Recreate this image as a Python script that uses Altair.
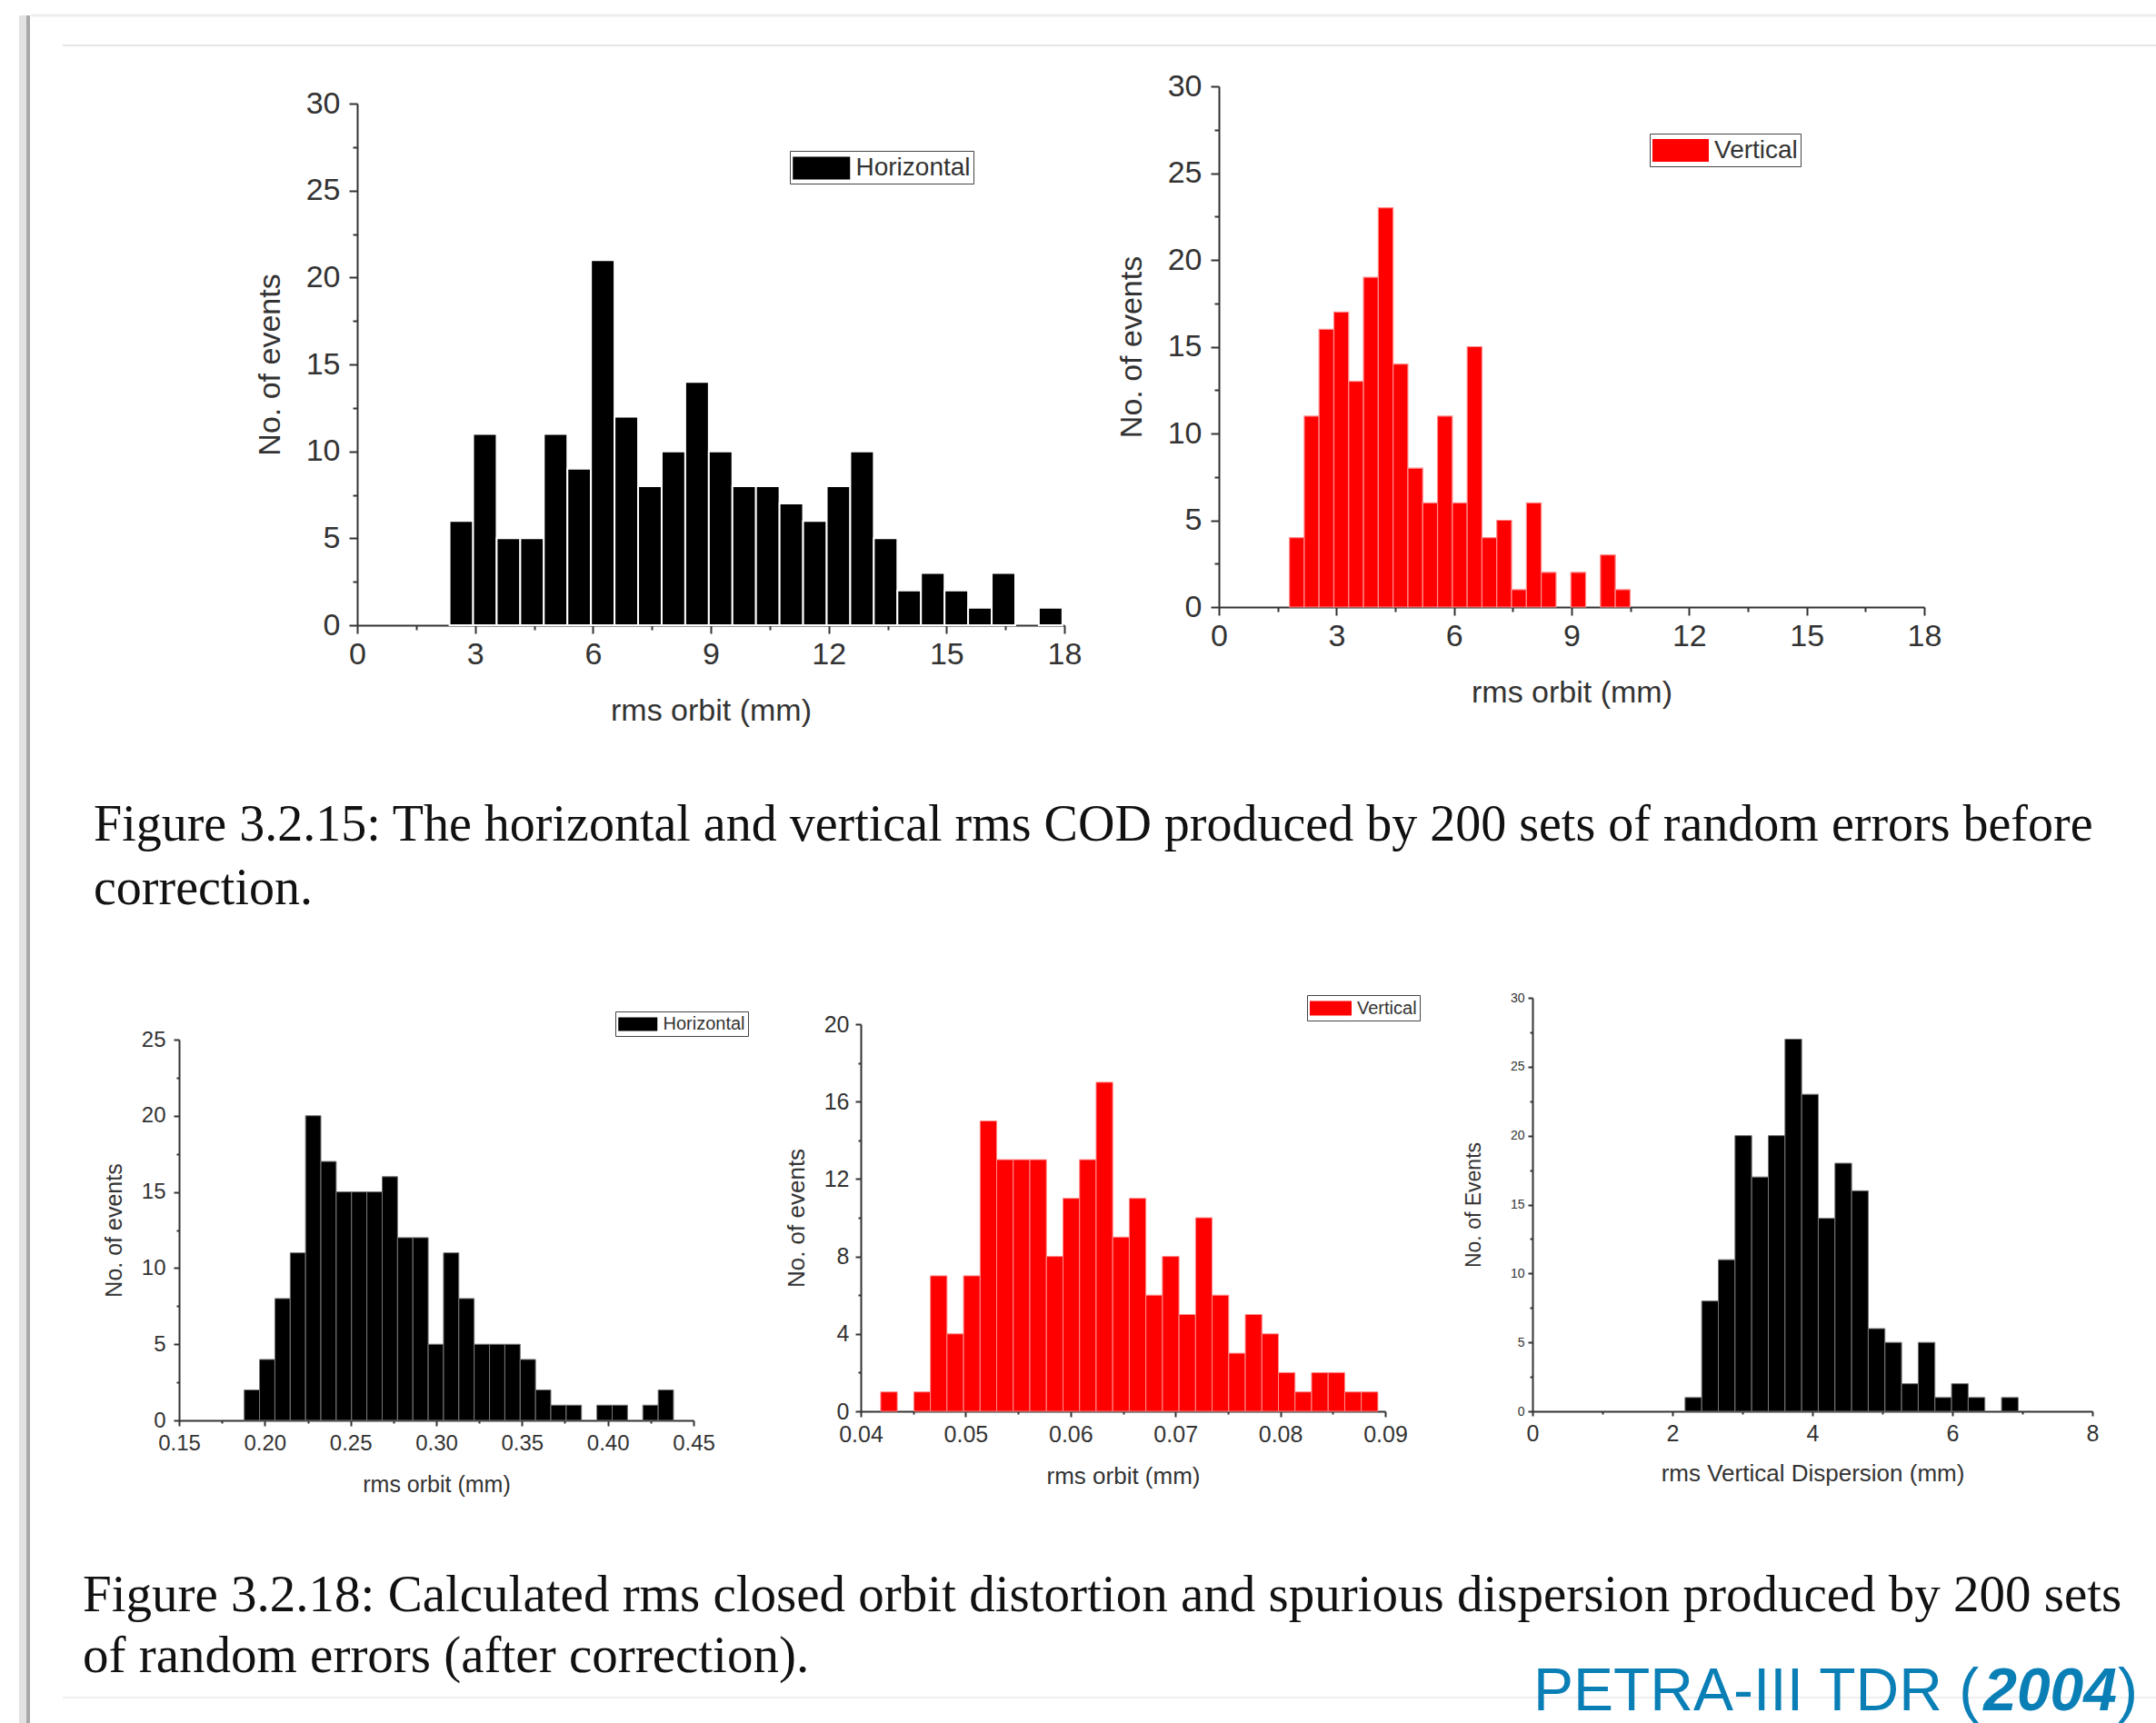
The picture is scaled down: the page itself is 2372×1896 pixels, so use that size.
import altair as alt
import pandas as pd

W, H = 2372, 1896

# ---------------- data ----------------
# Fig 3.2.15, horizontal rms orbit before correction
H_BEFORE_START, H_BEFORE_WIDTH = 2.35, 0.6
H_BEFORE_COUNTS = [6, 11, 5, 5, 11, 9, 21, 12, 8, 10, 14, 10, 8, 8, 7, 6, 8, 10, 5, 2, 3, 2, 1, 3, 0, 1]
# Fig 3.2.15, vertical rms orbit before correction
V_BEFORE_START, V_BEFORE_WIDTH = 1.8, 0.378
V_BEFORE_COUNTS = [4, 11, 16, 17, 13, 19, 23, 14, 8, 6, 11, 6, 15, 4, 5, 1, 6, 2, 0, 2, 0, 3, 1]
# Fig 3.2.18, horizontal rms orbit after correction
H_AFTER_START, H_AFTER_WIDTH = 0.188, 0.00894
H_AFTER_COUNTS = [2, 4, 8, 11, 20, 17, 15, 15, 15, 16, 12, 12, 5, 11, 8, 5, 5, 5, 4, 2, 1, 1, 0, 1, 1, 0, 1, 2]
# Fig 3.2.18, vertical rms orbit after correction
V_AFTER_START, V_AFTER_WIDTH = 0.0419, 0.00158
V_AFTER_COUNTS = [1, 0, 1, 7, 4, 7, 15, 13, 13, 13, 8, 11, 13, 17, 9, 11, 6, 8, 5, 10, 6, 3, 5, 4, 2, 1, 2, 2, 1, 1]
# Fig 3.2.18, rms vertical dispersion
D_START, D_WIDTH = 2.18, 0.238
D_COUNTS = [1, 8, 11, 20, 17, 20, 27, 23, 14, 18, 16, 6, 5, 2, 5, 1, 2, 1, 0, 1]

CAPTION_1 = ["Figure 3.2.15: The horizontal and vertical rms COD produced by 200 sets of random errors before",
             "correction."]
CAPTION_2 = ["Figure 3.2.18: Calculated rms closed orbit distortion and spurious dispersion produced by 200 sets",
             "of random errors (after correction)."]

FONT = "Liberation Sans"
SERIF = "Liberation Serif"
AX = "#333333"


def bars_df(start, width, counts, series):
    rows = []
    for i, c in enumerate(counts):
        rows.append({"start": start + i * width, "end": start + (i + 1) * width,
                     "count": c, "series": series})
    return pd.DataFrame(rows)


def tick_values(lo, hi, major):
    n = int(round((hi - lo) / (major / 2)))
    return [round(lo + k * major / 2, 6) for k in range(n + 1)]


def major_test(lo, major):
    return f"abs((datum.value-({lo}))/{major} - round((datum.value-({lo}))/{major})) < 1e-6"


def panel(df, xdom, xr, ydom, yr, xmajor, ymajor, xtitle, ytitle, color, stroke, stroke_w,
          xfmt, yfmt, xlab, ylab, xtit, ytit, tmaj, tmin, xlabpad, ylabpad, xtitpad, ytitpad,
          legend):
    xt = major_test(xdom[0], xmajor)
    yt = major_test(ydom[0], ymajor)
    x_axis = alt.Axis(
        orient="bottom", offset=yr[0] - H, values=tick_values(xdom[0], xdom[1], xmajor),
        format=xfmt, labelExpr=f"({xt}) ? datum.label : ''",
        tickSize={"condition": {"test": xt, "value": tmaj}, "value": tmin},
        tickWidth=2, tickColor=AX, domainColor=AX, domainWidth=2, grid=False,
        labelFont=FONT, labelFontSize=xlab, labelColor=AX, labelPadding=xlabpad,
        labelFlush=False, labelOverlap=False,
        title=xtitle, titleFont=FONT, titleFontSize=xtit, titleFontWeight="normal",
        titleColor=AX, titlePadding=xtitpad)
    y_axis = alt.Axis(
        orient="left", offset=-xr[0], values=tick_values(ydom[0], ydom[1], ymajor),
        format=yfmt, labelExpr=f"({yt}) ? datum.label : ''",
        tickSize={"condition": {"test": yt, "value": tmaj}, "value": tmin},
        tickWidth=2, tickColor=AX, domainColor=AX, domainWidth=2, grid=False,
        labelFont=FONT, labelFontSize=ylab, labelColor=AX, labelPadding=ylabpad,
        labelFlush=False, labelOverlap=False,
        title=ytitle, titleFont=FONT, titleFontSize=ytit, titleFontWeight="normal",
        titleColor=AX, titlePadding=ytitpad)
    if legend is None:
        leg = None
    else:
        sym_w, sym_h, lx, ly, lfs = legend
        unit = sym_w / 4.0          # path spans 4 units horizontally
        half = round(sym_h / 2.0 / unit, 3)
        col = 2 * unit              # legend column width = sqrt(size)
        leg = alt.Legend(orient="none", legendX=lx, legendY=ly, title=None,
                         symbolType=f"M-1,-{half}H3V{half}H-1Z", symbolSize=col * col,
                         symbolStrokeWidth=0, symbolOpacity=1, labelOffset=col + 6,
                         labelFont=FONT, labelFontSize=lfs, labelColor=AX,
                         padding=3, strokeColor="#444444")
    return alt.Chart(df).transform_filter("datum.count > 0").mark_bar(
        stroke=stroke, strokeWidth=stroke_w, opacity=1
    ).encode(
        x=alt.X("start:Q", scale=alt.Scale(domain=xdom, range=xr, nice=False, zero=False), axis=x_axis),
        x2="end:Q",
        y=alt.Y("count:Q", scale=alt.Scale(domain=ydom, range=yr, nice=False, zero=True), axis=y_axis),
        y2=alt.datum(0),
        color=alt.Color("series:N", scale=alt.Scale(domain=[df["series"][0]], range=[color]), legend=leg),
    )


p1 = panel(bars_df(H_BEFORE_START, H_BEFORE_WIDTH, H_BEFORE_COUNTS, "Horizontal"),
           [0, 18], [393, 1171], [0, 30], [688, 114], 3, 5,
           "rms orbit (mm)", "No. of events", "#000000", "white", 2, "d", "d",
           34, 34, 34, 34, 9, 5, 6, 10, 28, 22, (63, 25, 869, 166, 28))
p2 = panel(bars_df(V_BEFORE_START, V_BEFORE_WIDTH, V_BEFORE_COUNTS, "Vertical"),
           [0, 18], [1341, 2117], [0, 30], [668, 95], 3, 5,
           "rms orbit (mm)", "No. of events", "#ff0000", "#ff8c8c", 1.2, "d", "d",
           34, 34, 34, 34, 9, 5, 6, 10, 28, 22, (62, 25, 1815, 147, 28))
p3 = panel(bars_df(H_AFTER_START, H_AFTER_WIDTH, H_AFTER_COUNTS, "Horizontal"),
           [0.15, 0.45], [197, 763], [0, 25], [1563, 1144], 0.05, 5,
           "rms orbit (mm)", "No. of events", "#000000", "#777777", 1, ".2f", "d",
           24, 24, 25, 25, 6, 3, 7, 9, 21, 17, (43, 15, 677, 1113, 20))
p4 = panel(bars_df(V_AFTER_START, V_AFTER_WIDTH, V_AFTER_COUNTS, "Vertical"),
           [0.04, 0.09], [947, 1524], [0, 20], [1553, 1127], 0.01, 4,
           "rms orbit (mm)", "No. of events", "#ff0000", "#ff8c8c", 1, ".2f", "d",
           25, 25, 26, 26, 6, 3, 7, 7, 20, 17, (46, 16, 1438, 1095, 20))
p5 = panel(bars_df(D_START, D_WIDTH, D_COUNTS, "Dispersion"),
           [0, 8], [1686, 2302], [0, 30], [1553, 1098], 2, 5,
           "rms Vertical Dispersion (mm)", "No. of Events", "#000000", "#777777", 1, "d", "d",
           25, 14, 26, 23, 5, 3, 7, 4, 18, 28, None)


def text_layer(txt, x, y, size, font, color="#111111", weight="normal", style="normal", align="left"):
    return alt.Chart(pd.DataFrame({"t": [txt]})).mark_text(
        font=font, fontSize=size, fontWeight=weight, fontStyle=style, color=color,
        align=align, baseline="alphabetic"
    ).encode(text="t:N", x=alt.value(x), y=alt.value(y))


def rule(x, x2, y, y2, color, width, opacity=1.0):
    return alt.Chart(pd.DataFrame({"a": [0]})).mark_rule(
        color=color, strokeWidth=width, opacity=opacity
    ).encode(x=alt.value(x), x2=alt.value(x2), y=alt.value(y), y2=alt.value(y2))


frame = [
    rule(26, 26, 17, H, "#e2e2e2", 10),
    rule(31, 31, 17, H, "#a8a8a8", 4),
    rule(34, W, 17, 17, "#eeeeee", 3),
    rule(69, W, 50, 50, "#e6e6e6", 2),
    rule(69, W, 1868, 1868, "#efefef", 2),
]

texts = [
    text_layer(CAPTION_1[0], 103, 925, 56, SERIF),
    text_layer(CAPTION_1[1], 103, 995, 56, SERIF),
    text_layer(CAPTION_2[0], 91, 1773, 57, SERIF),
    text_layer(CAPTION_2[1], 91, 1840, 57, SERIF),
    text_layer("PETRA-III TDR (", 1687, 1882, 66, FONT, color="#0a7fb6"),
    text_layer("2004", 2329, 1882, 66, FONT, color="#0a7fb6", weight="bold", style="italic", align="right"),
    text_layer(")", 2352, 1882, 66, FONT, color="#0a7fb6", align="right"),
]

chart = alt.layer(*frame, p1, p2, p3, p4, p5, *texts).resolve_scale(
    x="independent", y="independent", color="independent"
).resolve_axis(
    x="independent", y="independent"
).resolve_legend(
    color="independent"
).properties(
    width=W, height=H, autosize=alt.AutoSizeParams(type="none"), padding=0, background="white"
).configure_view(stroke=None)

chart.save("out.html", embed_options={"renderer": "svg", "actions": False})
